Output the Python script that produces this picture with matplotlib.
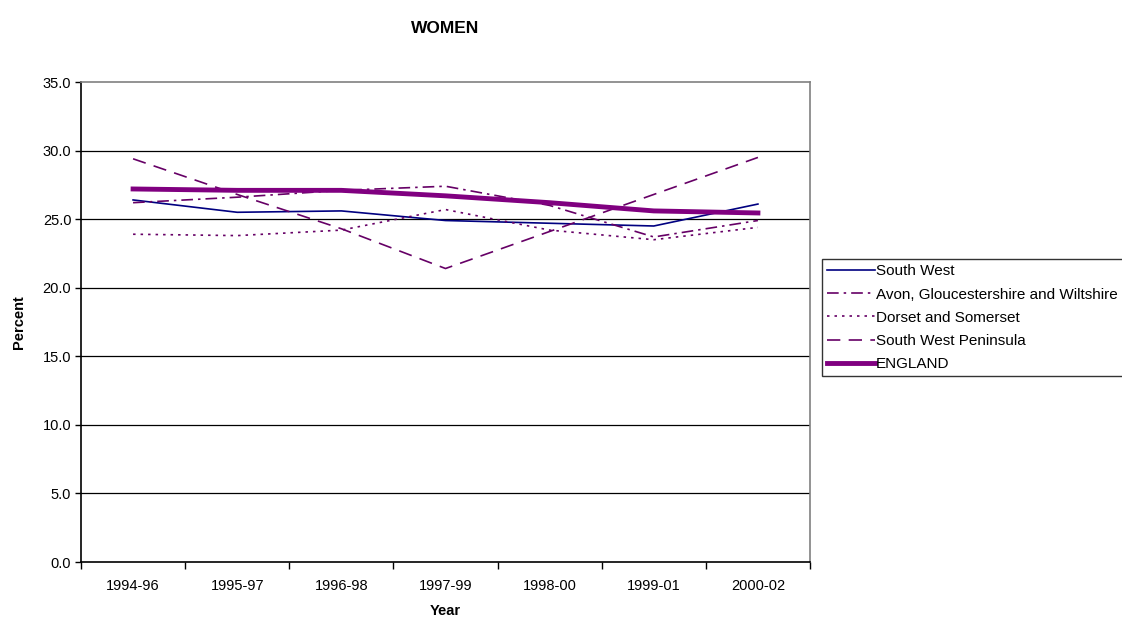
import matplotlib
matplotlib.use('Agg')
import matplotlib.pyplot as plt
import numpy as np

plt.rcParams['font.family'] = ['Liberation Sans', 'DejaVu Sans']

# Data
years = ['1994-96', '1995-97', '1996-98', '1997-99', '1998-00', '1999-01', '2000-02']
south_west = [26.4, 25.5, 25.6, 24.9, 24.7, 24.5, 26.1]
avon_glos_wilts = [26.2, 26.6, 27.1, 27.4, 26.0, 23.7, 24.9]
dorset_somerset = [23.9, 23.8, 24.2, 25.7, 24.2, 23.5, 24.4]
sw_peninsula = [29.4, 26.8, 24.3, 21.4, 24.1, 26.8, 29.5]
england = [27.2, 27.1, 27.1, 26.7, 26.2, 25.6, 25.45]

navy = '#000080'
purple = '#800080'
dark_purple = '#660066'

fig = plt.figure(figsize=(11.22, 6.17), dpi=100)
ax = fig.add_axes([81 / 1122, 55 / 617, 729 / 1122, 480 / 617])

x = np.arange(len(years))

ax.plot(x, south_west, color=navy, lw=1.2, label='South West')
ax.plot(x, avon_glos_wilts, color=dark_purple, lw=1.2, dashes=(7, 3, 1.5, 3),
        label='Avon, Gloucestershire and Wiltshire')
ax.plot(x, dorset_somerset, color=dark_purple, lw=1.2, dashes=(1.5, 3),
        label='Dorset and Somerset')
ax.plot(x, sw_peninsula, color=dark_purple, lw=1.2, dashes=(8, 5),
        label='South West Peninsula')
ax.plot(x, england, color=purple, lw=3.5, label='ENGLAND')

ax.set_xlim(-0.5, len(years) - 0.5)
ax.set_ylim(0, 35)
ax.set_yticks(np.arange(0, 35.1, 5))
ax.set_yticklabels(['%.1f' % v for v in np.arange(0, 35.1, 5)])
ax.set_xticks(x)
ax.set_xticklabels(years)
ax.set_xticks(np.arange(-0.5, len(years), 1), minor=True)
ax.tick_params(axis='x', which='major', length=0, pad=12, labelsize=10.5)
ax.tick_params(axis='x', which='minor', length=5, width=1, color='black', direction='out')
ax.tick_params(axis='y', length=4, width=1, color='black', labelsize=10.5, pad=3)

for v in np.arange(5, 35, 5):
    ax.axhline(v, color='black', lw=0.9, zorder=0)

ax.spines['left'].set_color('black')
ax.spines['bottom'].set_color('black')
ax.spines['top'].set_color('#808080')
ax.spines['right'].set_color('#808080')
for s in ax.spines.values():
    s.set_linewidth(1.2)

ax.set_title('WOMEN', fontsize=12.5, fontweight='bold', pad=35)
ax.set_xlabel('Year', fontsize=10.5, fontweight='bold', labelpad=8)
ax.set_ylabel('Percent', fontsize=10.5, fontweight='bold', labelpad=12)

leg = fig.legend(loc='upper left', bbox_to_anchor=(822 / 1122, 1 - 259 / 617),
                 fontsize=11, frameon=True, fancybox=False, edgecolor='black',
                 borderpad=0.35, labelspacing=0.6, handlelength=3.1, handletextpad=0.1,
                 borderaxespad=0)
leg.get_frame().set_linewidth(1.0)

fig.savefig('out.png', dpi=100)
